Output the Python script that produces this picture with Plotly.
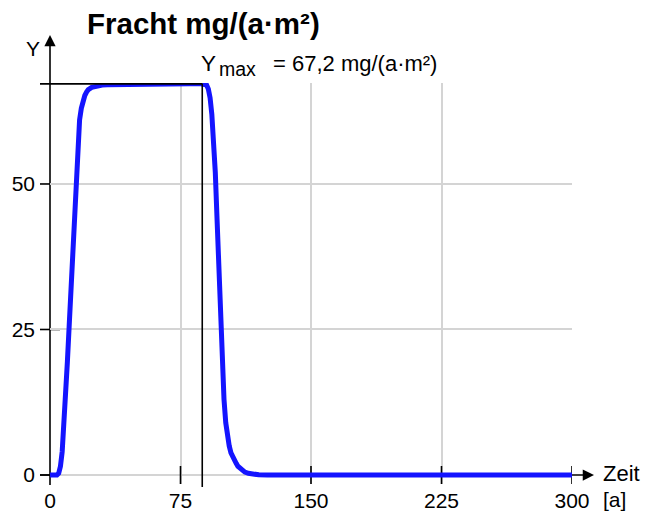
import plotly.graph_objects as go

# ---------------- data ----------------
zeit = [0, 4, 5, 6, 7, 8, 9, 10, 11, 12, 13, 14, 15, 16, 17, 18, 19, 20, 21, 22,
        24, 26, 28, 30, 33, 40, 50, 60, 70, 80, 87, 89, 90, 91, 92, 93, 94, 95,
        96, 97, 98, 99, 100, 101, 102, 103, 104, 105, 106, 107, 108, 110, 112,
        114, 116, 118, 120, 125, 150, 200, 250, 300]
fracht = [0, 0, 0.3, 1.5, 4, 8.5, 14, 19.5, 25.5, 32, 39, 46, 52.5, 57.5, 61, 63,
          64.3, 65.2, 65.8, 66.2, 66.6, 66.8, 66.9, 67.0, 67.05, 67.1, 67.1, 67.15,
          67.2, 67.2, 67.2, 67.2, 67.0, 66.3, 64.8, 62.0, 57.8, 52, 44, 35, 26.5,
          19, 13, 9, 6.3, 5.0, 3.8, 3.0, 2.5, 2.0, 1.5, 0.9, 0.5, 0.3, 0.15, 0.07,
          0.03, 0, 0, 0, 0, 0]
x_ticks = [0, 75, 150, 225, 300]
y_ticks = [0, 25, 50]
y_max = 67.2
t_ymax = 87.5
title_text = "Fracht mg/(a·m²)"
ymax_main = "Y"
ymax_sub = "max"
ymax_rest = "= 67,2 mg/(a·m²)"

# ---------------- layout geometry ----------------
W, H = 658, 512
ML, MR, MT, MB = 50, 86, 83, 28
X_RANGE = [0, 300]
Y_RANGE = [-1.546, 67.35]
PW = W - ML - MR
PH = H - MT - MB

def px2paper_x(px):
    return (px - ML) / PW

def px2paper_y(py):
    return (H - MB - py) / PH

def y2paper(v):
    return (v - Y_RANGE[0]) / (Y_RANGE[1] - Y_RANGE[0])

FONT = "Liberation Sans, Arial, sans-serif"
BLACK = "#000000"
LW = 1.6

fig = go.Figure()
fig.add_trace(go.Scatter(
    x=zeit, y=fracht, mode="lines",
    line=dict(color="#1414ff", width=5),
    hoverinfo="skip", showlegend=False,
))

shapes = []
# x axis line
shapes.append(dict(type="line", xref="paper", yref="y",
                   x0=px2paper_x(40), x1=px2paper_x(588), y0=0, y1=0,
                   line=dict(color=BLACK, width=LW), layer="between"))
# y axis line
shapes.append(dict(type="line", xref="paper", yref="paper",
                   x0=0, x1=0, y0=px2paper_y(485), y1=px2paper_y(45),
                   line=dict(color=BLACK, width=LW), layer="between"))
# crossing x ticks
for t in x_ticks[1:]:
    shapes.append(dict(type="line", xref="x", yref="y", ysizemode="pixel",
                       yanchor=0, y0=-9, y1=9, x0=t, x1=t,
                       line=dict(color=BLACK, width=LW), layer="between"))
# crossing y ticks
for v in y_ticks:
    shapes.append(dict(type="line", xref="paper", yref="y", xsizemode="pixel",
                       xanchor=0, x0=-10, x1=10, y0=v, y1=v,
                       line=dict(color=BLACK, width=LW), layer="between"))
# Ymax marker lines
shapes.append(dict(type="line", xref="paper", yref="y",
                   x0=px2paper_x(40), x1=t_ymax / 300.0, y0=y_max, y1=y_max,
                   line=dict(color=BLACK, width=LW), layer="above"))
shapes.append(dict(type="line", xref="x", yref="paper",
                   x0=t_ymax, x1=t_ymax, y0=px2paper_y(487), y1=y2paper(y_max),
                   line=dict(color=BLACK, width=LW), layer="above"))

def label(px, py, text, size, anchor="left", bold=False):
    return dict(xref="paper", yref="paper", x=px2paper_x(px), y=px2paper_y(py),
                xanchor=anchor, yanchor="middle", showarrow=False,
                text=("<b>" + text + "</b>") if bold else text,
                font=dict(family=FONT, size=size, color=BLACK))

annotations = [
    # arrow heads
    dict(xref="paper", yref="y", x=px2paper_x(594), y=0, ax=-10, ay=0,
         showarrow=True, arrowhead=2, arrowsize=1.5, arrowwidth=1.5,
         arrowcolor=BLACK, text="", standoff=0),
    dict(xref="paper", yref="paper", x=0, y=px2paper_y(35), ax=0, ay=12,
         showarrow=True, arrowhead=2, arrowsize=1.5, arrowwidth=1.5,
         arrowcolor=BLACK, text="", standoff=0),
    # texts
    label(85, 23, title_text, 29.5, bold=True),
    label(33, 49, "Y", 21, anchor="center"),
    label(199, 63, ymax_main, 22.5),
    label(217, 69, ymax_sub, 19.5),
    label(271, 63, ymax_rest, 22),
    label(601, 473, "Zeit", 22),
    label(601, 499, "[a]", 21),
]

fig.update_layout(
    width=W, height=H, autosize=False,
    margin=dict(l=ML, r=MR, t=MT, b=MB, pad=0, autoexpand=False),
    paper_bgcolor="white", plot_bgcolor="white",
    showlegend=False,
    shapes=shapes, annotations=annotations,
    font=dict(family=FONT, size=21, color=BLACK),
    xaxis=dict(range=X_RANGE, tickvals=x_ticks, ticktext=[str(v) for v in x_ticks],
               showgrid=True, gridcolor="#d4d4d4", gridwidth=1.5,
               zeroline=False, showline=False, ticks="", automargin=False,
               ticklabelstandoff=2, fixedrange=True,
               tickfont=dict(family=FONT, size=21, color=BLACK)),
    yaxis=dict(range=Y_RANGE, tickvals=y_ticks, ticktext=[str(v) for v in y_ticks],
               showgrid=True, gridcolor="#d4d4d4", gridwidth=1.5,
               zeroline=False, showline=False, ticks="", automargin=False,
               ticklabelstandoff=14, fixedrange=True,
               tickfont=dict(family=FONT, size=21, color=BLACK)),
)

fig.write_html("out.html")
